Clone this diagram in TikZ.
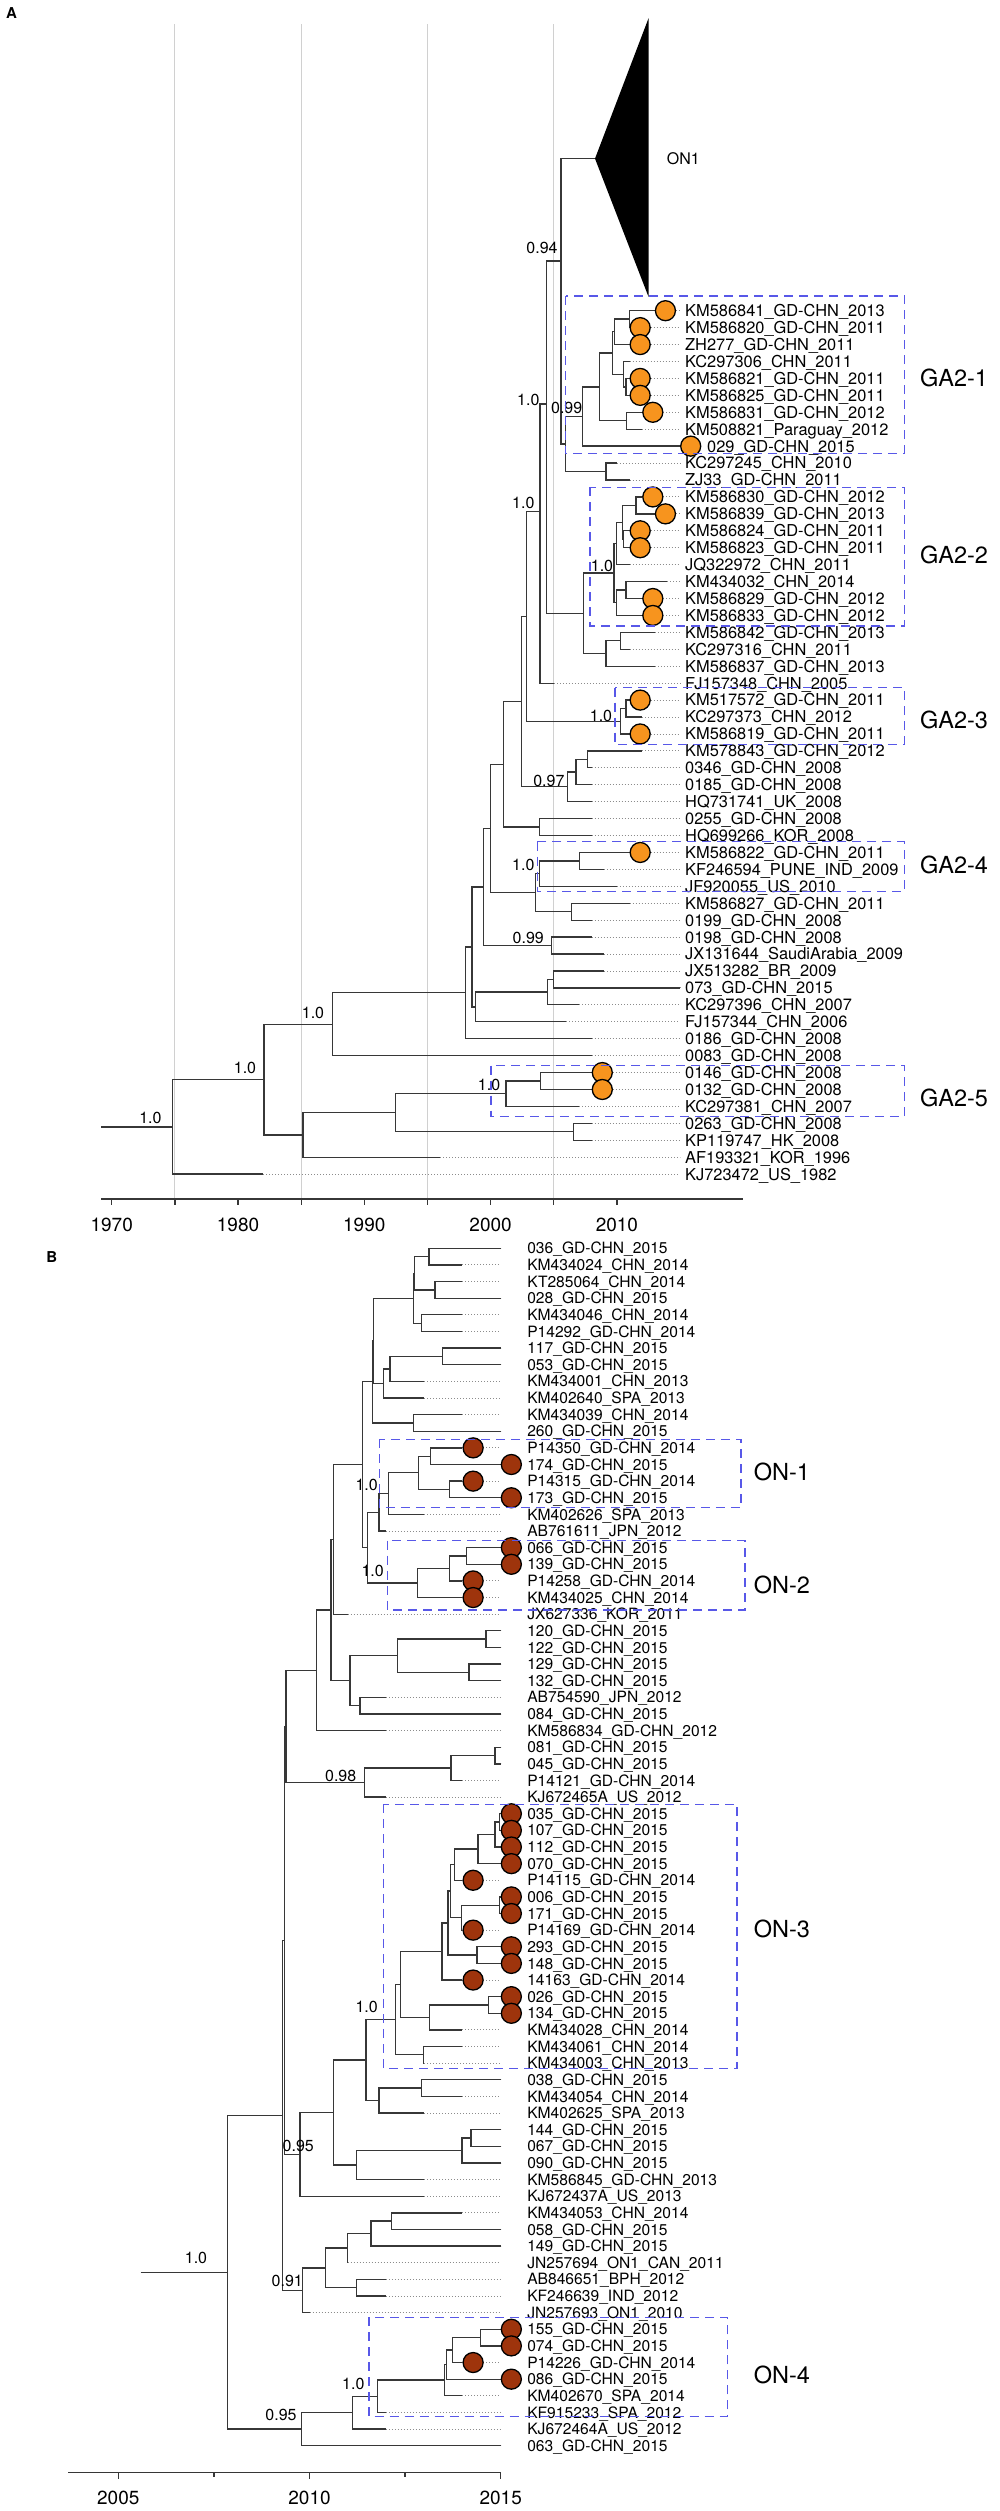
\documentclass[tikz,border=0pt]{standalone}
\usepackage{fontspec}
\setmainfont{TeX Gyre Heros}
\usetikzlibrary{positioning}
\definecolor{gaorange}{RGB}{247,148,30}
\definecolor{onbrown}{RGB}{158,52,12}
\definecolor{boxblue}{RGB}{88,88,232}
\definecolor{gridgrey}{RGB}{208,208,208}
\definecolor{treegrey}{RGB}{55,55,55}
\newcommand{\tipfontA}{\fontsize{16.4}{19}\selectfont}
\newcommand{\tipfontB}{\fontsize{15.6}{18}\selectfont}
\newcommand{\suppfont}{\fontsize{16}{18}\selectfont}
\newcommand{\cladefont}{\fontsize{23.5}{26}\selectfont}
\newcommand{\axisfont}{\fontsize{19}{21}\selectfont}

\begin{document}
\begin{tikzpicture}[x=1pt, y=-1pt,
  branch/.style={draw=treegrey, line width=1.3pt},
  tipline/.style={draw=black!45, line width=0.9pt, dash pattern=on 1pt off 2pt},
  gridline/.style={draw=gridgrey, line width=1.1pt},
  axisline/.style={draw=treegrey, line width=1.3pt},
  tiplabelA/.style={anchor=base west, inner sep=0pt, yshift=-5.9pt, font=\tipfontA},
  tiplabelB/.style={anchor=base west, inner sep=0pt, yshift=-5.6pt, font=\tipfontB},
  supp/.style={inner sep=0pt, font=\suppfont},
  clade/.style={anchor=west, inner sep=0pt, font=\cladefont},
  cladebox/.style={draw=boxblue, line width=1.3pt, dash pattern=on 9pt off 6pt},
  circA/.style={circle, draw=black, line width=1.3pt, fill=gaorange, minimum size=20pt, inner sep=0pt, anchor=west},
  circB/.style={circle, draw=black, line width=1.3pt, fill=onbrown, minimum size=20pt, inner sep=0pt, anchor=west},
  ticklab/.style={inner sep=0pt, font=\axisfont},
  panel/.style={inner sep=0pt, font=\fontsize{15}{17}\selectfont\bfseries}]

\useasboundingbox (0,0) rectangle (1000,2511);

\node[panel] (pA) at (11.5,12.7) {A};
\node[panel] (pB) at (51.7,1257.5) {B};

\foreach \yr in {1975,1985,1995,2005}
  \draw[gridline] ({111.7+12.63*(\yr-1970)},24) -- ++(0,1175);

\foreach \tip/\yr [count=\i] in {
  KM586841\_GD-CHN\_2013/2013, KM586820\_GD-CHN\_2011/2011, ZH277\_GD-CHN\_2011/2011,
  KC297306\_CHN\_2011/2011, KM586821\_GD-CHN\_2011/2011, KM586825\_GD-CHN\_2011/2011,
  KM586831\_GD-CHN\_2012/2012, KM508821\_Paraguay\_2012/2012, 029\_GD-CHN\_2015/2015,
  KC297245\_CHN\_2010/2010, ZJ33\_GD-CHN\_2011/2011, KM586830\_GD-CHN\_2012/2012,
  KM586839\_GD-CHN\_2013/2013, KM586824\_GD-CHN\_2011/2011, KM586823\_GD-CHN\_2011/2011,
  JQ322972\_CHN\_2011/2011, KM434032\_CHN\_2014/2014, KM586829\_GD-CHN\_2012/2012,
  KM586833\_GD-CHN\_2012/2012, KM586842\_GD-CHN\_2013/2013, KC297316\_CHN\_2011/2011,
  KM586837\_GD-CHN\_2013/2013, FJ157348\_CHN\_2005/2005, KM517572\_GD-CHN\_2011/2011,
  KC297373\_CHN\_2012/2012, KM586819\_GD-CHN\_2011/2011, KM578843\_GD-CHN\_2012/2012,
  0346\_GD-CHN\_2008/2008, 0185\_GD-CHN\_2008/2008, HQ731741\_UK\_2008/2008,
  0255\_GD-CHN\_2008/2008, HQ699266\_KOR\_2008/2008, KM586822\_GD-CHN\_2011/2011,
  KF246594\_PUNE\_IND\_2009/2009, JF920055\_US\_2010/2010, KM586827\_GD-CHN\_2011/2011,
  0199\_GD-CHN\_2008/2008, 0198\_GD-CHN\_2008/2008, JX131644\_SaudiArabia\_2009/2009,
  JX513282\_BR\_2009/2009, 073\_GD-CHN\_2015/2015, KC297396\_CHN\_2007/2007,
  FJ157344\_CHN\_2006/2006, 0186\_GD-CHN\_2008/2008, 0083\_GD-CHN\_2008/2008,
  0146\_GD-CHN\_2008/2008, 0132\_GD-CHN\_2008/2008, KC297381\_CHN\_2007/2007,
  0263\_GD-CHN\_2008/2008, KP119747\_HK\_2008/2008, AF193321\_KOR\_1996/1996,
  KJ723472\_US\_1982/1982} {
  \pgfmathsetmacro{\y}{310.7+(\i-1)*16.93}
  \pgfmathsetmacro{\x}{111.7+12.63*(\yr-1970)}
  \pgfmathsetmacro{\lx}{\i==9 ? 707 : 685}
  \coordinate (aT\i) at (\x,\y);
  \coordinate (aE\i) at (680.1,\y);
  \node[tiplabelA] (aL\i) at (\lx,\y) {\tip};
}

\foreach \n/\x/\y in {aStem/101.4/1126.9, aR/172.2/1126.9, aN1/264.0/1079.6, aN2/332.2/1024.2,
  aN3/303.0/1135.0, aN4/465.7/992.8, aN5/395.3/1112.8, aN6/506.0/1093.7, aN7/573.5/1131.8,
  aN8/540.7/1081.0, aN9/471.9/947.0, aN10/483.3/887.0, aN11/475.7/1006.9, aN12/547.3/992.1,
  aN13/553.5/979.4, aN14/490.6/828.4, aN15/551.3/945.6, aN16/503.6/764.3, aN17/535.5/892.6,
  aN18/539.3/873.6, aN19/571.5/911.6, aN20/579.3/860.9, aN21/521.2/701.6, aN22/539.5/827.0,
  aN23/567.7/786.8, aN24/587.3/759.4, aN25/576.0/772.0, aN26/620.7/721.2, aN27/626.0/708.5,
  aN28/561.0/261.0, aN29/606.0/471.6, aN30/565.7/444.0, aN31/582.7/416.5, aN32/546.7/404.0,
  aN33/583.3/613.3, aN34/540.0/511.7, aN35/526.7/616.5, aN38/614.0/573.1, aN39/606.0/653.5,
  aN40/616.7/543.5, aN41/616.7/602.7, aN42/626.0/590.0, aN43/622.7/522.3, aN44/636.0/505.4,
  aN45/623.3/539.3, aN46/620.7/640.8, aN48/599.3/386.9, aN49/612.7/353.0, aN50/626.7/420.8,
  aN51/614.3/331.8, aN52/623.3/374.2, aN53/629.3/319.1, aN54/626.0/386.9, aON1/595.0/158.6}
  \coordinate (\n) at (\x,\y);

\fill[black] (aON1) -- (648.5,18.3) -- (648.5,296.8) -- cycle;
\node[anchor=west, inner sep=0pt, font=\suppfont] (aG0) at (666.7,158.6) {ON1};

\draw[branch] (aStem) -- (aR);
\foreach \p/\c in {aR/aN1, aR/aT52, aN1/aN2, aN1/aN3, aN2/aN4, aN2/aT45, aN3/aN5, aN3/aT51,
  aN5/aN6, aN5/aN7, aN6/aN8, aN6/aT48, aN8/aT46, aN8/aT47, aN7/aT49, aN7/aT50, aN4/aN9,
  aN4/aT44, aN9/aN10, aN9/aN11, aN11/aN12, aN11/aT43, aN12/aN13, aN12/aT42, aN13/aT40,
  aN13/aT41, aN10/aN14, aN10/aN15, aN15/aT38, aN15/aT39, aN14/aN16, aN14/aN17, aN17/aN18,
  aN17/aN19, aN18/aN20, aN18/aT35, aN20/aT33, aN20/aT34, aN19/aT36, aN19/aT37, aN16/aN21,
  aN16/aN22, aN22/aT31, aN22/aT32, aN21/aN35, aN21/aN23, aN23/aN25, aN23/aT30, aN25/aN24,
  aN25/aT29, aN24/aT27, aN24/aT28, aN35/aN34, aN35/aN26, aN26/aN27, aN26/aT26, aN27/aT24,
  aN27/aT25, aN34/aN32, aN34/aT23, aN32/aN28, aN32/aN33, aN28/aON1, aN28/aN30, aN30/aN31,
  aN30/aN29, aN29/aT10, aN29/aT11, aN31/aN48, aN31/aT9, aN48/aN49, aN48/aN50, aN50/aT7,
  aN50/aT8, aN49/aN51, aN49/aN52, aN51/aN53, aN51/aT3, aN53/aT1, aN53/aT2, aN52/aT4,
  aN52/aN54, aN54/aT5, aN54/aT6, aN33/aN38, aN33/aN39, aN38/aN40, aN38/aN41, aN40/aN43,
  aN40/aT16, aN43/aN44, aN43/aN45, aN44/aT12, aN44/aT13, aN45/aT14, aN45/aT15, aN41/aN42,
  aN41/aT19, aN42/aT17, aN42/aT18, aN39/aN46, aN39/aT22, aN46/aT20, aN46/aT21}
  \draw[branch] (\p) |- (\c);

\foreach \i in {1,...,52}
  \draw[tipline] (aT\i) -- (aE\i);
\foreach \i in {1,2,3,5,6,7,9,12,13,14,15,18,19,24,26,33,46,47}
  \node[circA] (aC\i) at (aT\i) {};

\foreach \n/\x/\y/\v in {aS1/150.4/1117.9/1.0, aS2/245.0/1068.0/1.0, aS3/313.0/1012.7/1.0,
  aS4/542.0/248.0/0.94, aS5/528.3/400.0/1.0, aS6/566.7/407.7/0.99, aS7/523.3/503.3/1.0,
  aS8/602.0/566.0/1.0, aS9/601.0/716.0/1.0, aS10/548.9/781.0/0.97, aS11/523.3/865.0/1.0,
  aS12/528.3/937.5/0.99, aS13/489.1/1085.4/1.0}
  \node[supp] (\n) at (\x,\y) {\v};

\draw[cladebox] (565.7,296.0) rectangle (904.3,453.3);
\draw[cladebox] (590.0,487.3) rectangle (904.3,626.0);
\draw[cladebox] (615.0,687.7) rectangle (904.3,744.3);
\draw[cladebox] (537.3,841.7) rectangle (904.3,891.7);
\draw[cladebox] (491.0,1065.5) rectangle (904.3,1116.7);
\foreach \n/\y/\v in {aG1/378.3/GA2-1, aG2/555.0/GA2-2, aG3/720.0/GA2-3, aG4/865.0/GA2-4, aG5/1097.7/GA2-5}
  \node[clade] (\n) at (920,\y) {\v};

\draw[axisline] (101.4,1199) -- (743,1199);
\foreach \yr in {1970,1975,...,2010}
  \draw[axisline] ({111.7+12.63*(\yr-1970)},1199) -- ++(0,6);
\foreach \yr in {1970,1980,...,2010}
  \node[ticklab] (aX\yr) at ({111.7+12.63*(\yr-1970)},1225) {\yr};

\foreach \tip/\yr [count=\i] in {
  036\_GD-CHN\_2015/2015, KM434024\_CHN\_2014/2014, KT285064\_CHN\_2014/2014,
  028\_GD-CHN\_2015/2015, KM434046\_CHN\_2014/2014, P14292\_GD-CHN\_2014/2014,
  117\_GD-CHN\_2015/2015, 053\_GD-CHN\_2015/2015, KM434001\_CHN\_2013/2013,
  KM402640\_SPA\_2013/2013, KM434039\_CHN\_2014/2014, 260\_GD-CHN\_2015/2015,
  P14350\_GD-CHN\_2014/2014, 174\_GD-CHN\_2015/2015, P14315\_GD-CHN\_2014/2014,
  173\_GD-CHN\_2015/2015, KM402626\_SPA\_2013/2013, AB761611\_JPN\_2012/2012,
  066\_GD-CHN\_2015/2015, 139\_GD-CHN\_2015/2015, P14258\_GD-CHN\_2014/2014,
  KM434025\_CHN\_2014/2014, JX627336\_KOR\_2011/2011, 120\_GD-CHN\_2015/2015,
  122\_GD-CHN\_2015/2015, 129\_GD-CHN\_2015/2015, 132\_GD-CHN\_2015/2015,
  AB754590\_JPN\_2012/2012, 084\_GD-CHN\_2015/2015, KM586834\_GD-CHN\_2012/2012,
  081\_GD-CHN\_2015/2015, 045\_GD-CHN\_2015/2015, P14121\_GD-CHN\_2014/2014,
  KJ672465A\_US\_2012/2012, 035\_GD-CHN\_2015/2015, 107\_GD-CHN\_2015/2015,
  112\_GD-CHN\_2015/2015, 070\_GD-CHN\_2015/2015, P14115\_GD-CHN\_2014/2014,
  006\_GD-CHN\_2015/2015, 171\_GD-CHN\_2015/2015, P14169\_GD-CHN\_2014/2014,
  293\_GD-CHN\_2015/2015, 148\_GD-CHN\_2015/2015, 14163\_GD-CHN\_2014/2014,
  026\_GD-CHN\_2015/2015, 134\_GD-CHN\_2015/2015, KM434028\_CHN\_2014/2014,
  KM434061\_CHN\_2014/2014, KM434003\_CHN\_2013/2013, 038\_GD-CHN\_2015/2015,
  KM434054\_CHN\_2014/2014, KM402625\_SPA\_2013/2013, 144\_GD-CHN\_2015/2015,
  067\_GD-CHN\_2015/2015, 090\_GD-CHN\_2015/2015, KM586845\_GD-CHN\_2013/2013,
  KJ672437A\_US\_2013/2013, KM434053\_CHN\_2014/2014, 058\_GD-CHN\_2015/2015,
  149\_GD-CHN\_2015/2015, JN257694\_ON1\_CAN\_2011/2011, AB846651\_BPH\_2012/2012,
  KF246639\_IND\_2012/2012, JN257693\_ON1\_2010/2010, 155\_GD-CHN\_2015/2015,
  074\_GD-CHN\_2015/2015, P14226\_GD-CHN\_2014/2014, 086\_GD-CHN\_2015/2015,
  KM402670\_SPA\_2014/2014, KF915233\_SPA\_2012/2012, KJ672464A\_US\_2012/2012,
  063\_GD-CHN\_2015/2015} {
  \pgfmathsetmacro{\y}{1248.3+(\i-1)*16.63}
  \pgfmathsetmacro{\x}{118.3+38.24*(\yr-2005)}
  \coordinate (bT\i) at (\x,\y);
  \coordinate (bE\i) at (500.7,\y);
  \node[tiplabelB] (bL\i) at (527.1,\y) {\tip};
}

\foreach \n/\x/\y in {bStem/140.7/2272.2, bR/227.7/2272.2, bB1/282.7/2115.3, bB2/301.7/2429.1,
  bB3/352.3/2412.6, bB4/377.7/2396.2, bB5/444.3/2380.1, bB6/446.7/2364.5, bB7/452.3/2350.0,
  bB8/480.7/2337.5, bB9/316.7/1670.4, bB10/364.3/1782.6, bB11/302.7/2290.2, bB12/286.0/1726.5,
  bB13/300.0/2154.3, bB14/284.3/1940.4, bB17/333.3/2112.6, bB18/366.0/2060.1, bB19/356.7/2165.0,
  bB20/421.5/2088.1, bB21/471.0/2138.0, bB22/462.0/2150.5, bB23/379.0/2100.6, bB24/395.5/2019.6,
  bB25/499.5/1822.0, bB26/495.0/1834.5, bB27/478.0/1849.0, bB28/454.3/1864.6, bB29/450.4/1891.1,
  bB31/499.8/1905.2, bB32/461.8/1917.6, bB33/476.9/1955.1, bB34/448.0/1923.1, bB35/442.0/1951.5,
  bB36/488.7/2004.9, bB37/429.4/2017.4, bB38/400.6/1984.5, bB39/423.5/2054.8, bB40/325.7/2267.9,
  bB41/347.3/2248.1, bB42/371.0/2233.6, bB43/391.7/2221.1, bB44/356.7/2287.6, bB45/451.0/1768.0,
  bB46/495.0/1755.5, bB48/333.3/1539.5, bB51/486.0/1639.1, bB52/469.0/1672.4, bB53/397.8/1655.8,
  bB54/350.0/1680.7, bB55/360.0/1705.6, bB56/331.0/1610.1, bB57/362.7/1464.8, bB60/429.0/1256.6,
  bB61/435.0/1289.9, bB62/414.3/1273.3, bB63/421.7/1323.2, bB64/413.3/1298.2, bB66/442.7/1356.4,
  bB67/390.0/1368.9, bB68/383.3/1383.4, bB69/413.3/1422.9, bB70/372.7/1381.8, bB72/373.5/1340.8,
  bB73/430.6/1456.2, bB74/449.2/1489.4, bB75/418.8/1472.8, bB76/388.7/1493.6, bB77/379.0/1512.3,
  bB78/466.2/1556.0, bB79/449.2/1568.4, bB80/417.6/1583.0, bB81/367.7/1547.7}
  \coordinate (\n) at (\x,\y);

\draw[branch] (bStem) -- (bR);
\foreach \p/\c in {bR/bB1, bR/bB2, bB1/bB14, bB1/bB11, bB14/bB12, bB14/bB13, bB12/bB9,
  bB12/bB10, bB9/bB56, bB9/bT30, bB56/bB48, bB56/bB54, bB48/bB57, bB48/bT23, bB57/bB70,
  bB57/bB81, bB70/bB72, bB70/bB69, bB72/bB64, bB72/bB68, bB64/bB62, bB64/bB63, bB62/bB60,
  bB62/bB61, bB60/bT1, bB60/bT2, bB61/bT3, bB61/bT4, bB63/bT5, bB63/bT6, bB68/bB67,
  bB68/bT10, bB67/bB66, bB67/bT9, bB66/bT7, bB66/bT8, bB69/bT11, bB69/bT12, bB81/bB77,
  bB81/bB80, bB77/bB76, bB77/bT18, bB76/bB75, bB76/bT17, bB75/bB73, bB75/bB74, bB73/bT13,
  bB73/bT14, bB74/bT15, bB74/bT16, bB80/bB79, bB80/bT22, bB79/bB78, bB79/bT21, bB78/bT19,
  bB78/bT20, bB54/bB53, bB54/bB55, bB53/bB51, bB53/bB52, bB51/bT24, bB51/bT25, bB52/bT26,
  bB52/bT27, bB55/bT28, bB55/bT29, bB10/bB45, bB10/bT34, bB45/bB46, bB45/bT33, bB46/bT31,
  bB46/bT32, bB13/bB17, bB13/bT58, bB17/bB18, bB17/bB19, bB18/bB24, bB18/bB23, bB24/bB38,
  bB24/bB39, bB38/bB35, bB38/bB37, bB35/bB34, bB35/bT45, bB34/bB29, bB34/bB33, bB29/bB28,
  bB29/bB32, bB28/bB27, bB28/bT39, bB27/bB26, bB27/bT38, bB26/bB25, bB26/bT37, bB25/bT35,
  bB25/bT36, bB32/bB31, bB32/bT42, bB31/bT40, bB31/bT41, bB33/bT43, bB33/bT44, bB37/bB36,
  bB37/bT48, bB36/bT46, bB36/bT47, bB39/bT49, bB39/bT50, bB23/bB20, bB23/bT53, bB20/bT51,
  bB20/bT52, bB19/bB22, bB19/bT57, bB22/bB21, bB22/bT56, bB21/bT54, bB21/bT55, bB11/bB40,
  bB11/bT65, bB40/bB41, bB40/bB44, bB41/bB42, bB41/bT62, bB42/bB43, bB42/bT61, bB43/bT59,
  bB43/bT60, bB44/bT63, bB44/bT64, bB2/bB3, bB2/bT73, bB3/bB4, bB3/bT72, bB4/bB5, bB4/bT71,
  bB5/bB6, bB5/bT70, bB6/bB7, bB6/bT69, bB7/bB8, bB7/bT68, bB8/bT66, bB8/bT67}
  \draw[branch] (\p) |- (\c);

\foreach \i in {1,...,73}
  \draw[tipline] (bT\i) -- (bE\i);
\foreach \i in {13,14,15,16,19,20,21,22,35,36,37,38,39,40,41,42,43,44,45,46,47,66,67,68,69}
  \node[circB] (bC\i) at (bT\i) {};

\foreach \n/\x/\y/\v in {bS1/196.0/2257.7/1.0, bS2/340.7/1775.9/0.98, bS3/366.7/1485.0/1.0,
  bS4/372.7/1571.4/1.0, bS5/366.7/2007.4/1.0, bS6/298.3/2145.6/0.95, bS7/287.3/2280.5/0.91,
  bS8/353.3/2383.9/1.0, bS9/281.0/2415.4/0.95}
  \node[supp] (\n) at (\x,\y) {\v};

\draw[cladebox] (379.3,1439.3) rectangle (741.0,1507.7);
\draw[cladebox] (387.7,1540.7) rectangle (745.0,1610.0);
\draw[cladebox] (383.3,1804.3) rectangle (737.0,2068.3);
\draw[cladebox] (369.0,2317.3) rectangle (727.2,2416.7);
\foreach \n/\y/\v in {bG1/1472.3/ON-1, bG2/1585.0/ON-2, bG3/1929.3/ON-3, bG4/2375.0/ON-4}
  \node[clade] (\n) at (753.7,\y) {\v};

\draw[axisline] (68.3,2472.8) -- (500.7,2472.8);
\foreach \yr/\len in {2005/6, 2007.5/4, 2010/6, 2012.5/4, 2015/6}
  \draw[axisline] ({118.3+38.24*(\yr-2005)},2472.8) -- ++(0,\len);
\foreach \yr in {2005,2010,2015}
  \node[ticklab] (bX\yr) at ({118.3+38.24*(\yr-2005)},2497.5) {\yr};
\end{tikzpicture}
\end{document}
